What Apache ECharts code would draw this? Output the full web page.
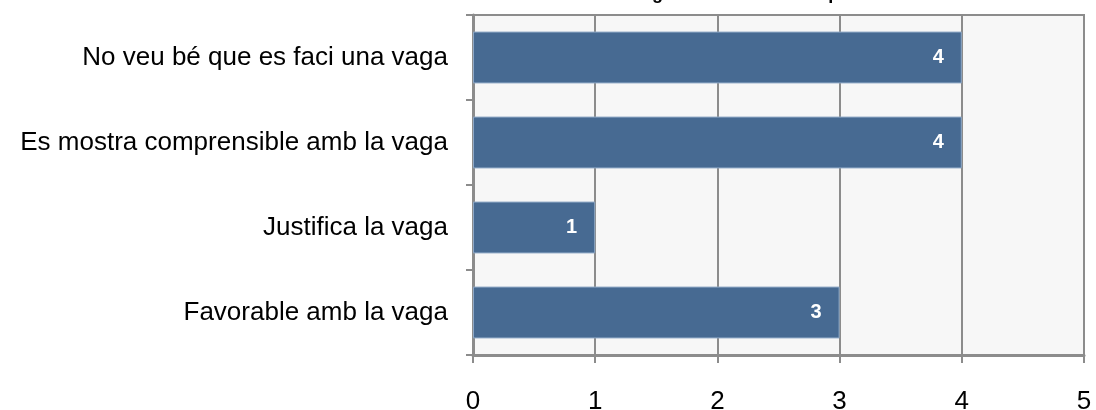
<!DOCTYPE html>
<html><head><meta charset="utf-8">
<script src="https://cdn.jsdelivr.net/npm/echarts@6/dist/echarts.min.js"></script>
<style>html,body{margin:0;padding:0;background:#fff}#c{width:1096px;height:410px}</style>
</head><body><div id="c"></div>
<script>
const categories = ["No veu bé que es faci una vaga", "Es mostra comprensible amb la vaga", "Justifica la vaga", "Favorable amb la vaga"];
const values = [4, 4, 1, 3];
const titleText = "Actitud davant la vaga de l'alumnat i del professorat";

const chart = echarts.init(document.getElementById('c'));
chart.setOption({
  animation: false,
  title: {
    text: titleText, left: 482, top: -15, padding: 0,
    textStyle: {fontFamily: 'Liberation Sans, Arial', fontSize: 18, fontWeight: 'bold', color: '#000'}
  },
  grid: {left: 473, right: 12, top: 15, bottom: 55, show: true, backgroundColor: '#f7f7f7', borderColor: '#8c8c8c', borderWidth: 2, containLabel: false, outerBoundsMode: 'none'},
  xAxis: {
    type: 'value', min: 0, max: 5, interval: 1,
    axisLine: {show: true, lineStyle: {color: '#8c8c8c', width: 3}},
    axisTick: {show: true, length: 8, lineStyle: {color: '#8c8c8c', width: 2}},
    splitLine: {show: true, lineStyle: {color: '#8c8c8c', width: 2}},
    axisLabel: {fontFamily: 'Liberation Sans, Arial', fontSize: 26, color: '#000', margin: 34}
  },
  yAxis: {
    type: 'category', data: categories, inverse: true,
    axisLine: {show: true, lineStyle: {color: '#8c8c8c', width: 3}},
    axisTick: {show: true, length: 7, lineStyle: {color: '#8c8c8c', width: 2}},
    axisLabel: {fontFamily: 'Liberation Sans, Arial', fontSize: 26, color: '#000', margin: 25}
  },
  series: [{
    type: 'bar', data: values, barCategoryGap: '39%',
    itemStyle: {color: '#476a92', borderColor: '#8ea8c6', borderWidth: 1},
    label: {show: true, position: 'insideRight', distance: 5, offset: [-13, 0], color: '#fff', fontFamily: 'Liberation Sans, Arial', fontSize: 20, fontWeight: 'bold'}
  }]
});
</script></body></html>
